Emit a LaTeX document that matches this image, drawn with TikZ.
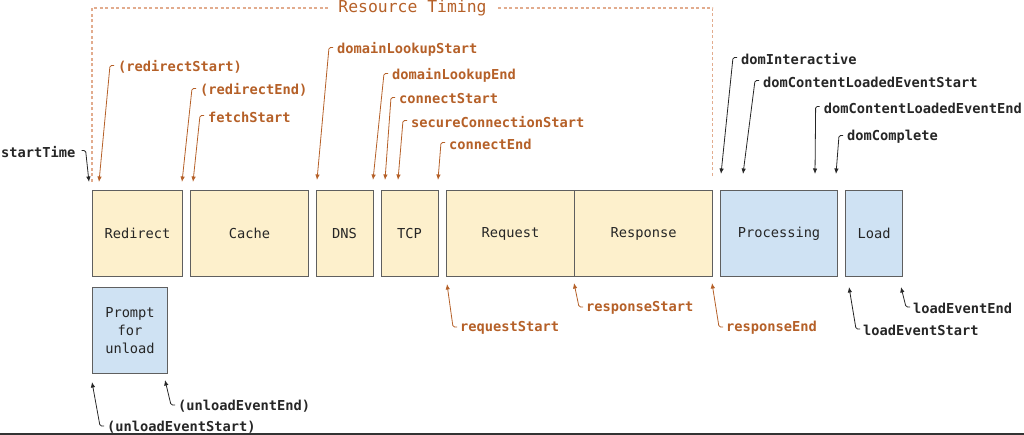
\documentclass[tikz,border=0pt]{standalone}
\usepackage{fontspec}
\newfontfamily\monof{DejaVu Sans Mono}
\usetikzlibrary{arrows.meta,calc}
\definecolor{borange}{RGB}{181,96,40}
\definecolor{dashor}{RGB}{226,172,142}
\definecolor{yfill}{RGB}{253,240,204}
\definecolor{bfill}{RGB}{207,226,243}
\definecolor{bord}{RGB}{95,95,95}
\tikzset{
  box/.style={draw=bord, line width=1pt, inner sep=0pt, anchor=north west, font=\monof\fontsize{13.7}{17.7}\selectfont, text=black!85},
  ybox/.style={box, fill=yfill},
  bbox/.style={box, fill=bfill},
  lab/.style={anchor=west, inner sep=0pt, font=\monof\bfseries\fontsize{13.7}{15}\selectfont},
  olab/.style={lab, text=borange},
  klab/.style={lab, text=black!85},
  arr/.style={line width=0.8pt, rounded corners=1.5pt, -{Latex[length=5.5pt,width=4.5pt]}},
  oarr/.style={arr, draw=borange},
  karr/.style={arr, draw=black!85},
  frame/.style={draw=dashor, line width=1.2pt, dash pattern=on 3pt off 2.5pt}
}
\begin{document}
\begin{tikzpicture}[x=1pt,y=-1pt]
\useasboundingbox (0,0) rectangle (1024,435);
% boxes
\node[ybox, minimum width=90pt, minimum height=86pt] (redirect) at (92,190) {Redirect};
\node[ybox, minimum width=118pt, minimum height=86pt] (cache) at (190,190) {Cache};
\node[ybox, minimum width=57pt, minimum height=86pt] (dns) at (315.5,190) {DNS};
\node[ybox, minimum width=57pt, minimum height=86pt] (tcp) at (380.5,190) {TCP};
\node[ybox, minimum width=128pt, minimum height=86pt] (request) at (446,190) {Request};
\node[ybox, minimum width=138pt, minimum height=86pt] (response) at (574,190) {Response};
\node[bbox, minimum width=117pt, minimum height=86pt] (processing) at (720,190) {Processing};
\node[bbox, minimum width=57pt, minimum height=86pt] (load) at (845,190) {Load};
\node[bbox, minimum width=75pt, minimum height=86pt, align=center] (prompt) at (92,287) {Prompt\\for\\unload};
% resource timing frame
\node[inner sep=0pt, text=borange, font=\monof\fontsize{16.4}{18}\selectfont] (rt) at (412.5,8) {Resource Timing};
\draw[frame] (92,182) -- (92,8) -- (328,8);
\draw[frame] (498,8) -- (712.5,8) -- (712.5,178);
% tip coordinates
\coordinate (tst) at (89,182);
\coordinate (t1) at (99,182);
\coordinate (t2) at (182,182);
\coordinate (t3) at (193,182);
\coordinate (t4) at (317,180);
\coordinate (t5) at (373,180);
\coordinate (t6) at (385,180);
\coordinate (t7) at (398,180);
\coordinate (t8) at (438,180);
\coordinate (t9) at (721,174);
\coordinate (t10) at (743,174);
\coordinate (t11) at (815,174);
\coordinate (t12) at (836,174);
\coordinate (b1) at (447,284);
\coordinate (b2) at (574,283);
\coordinate (b3) at (712,283);
\coordinate (b4) at (849,287);
\coordinate (b5) at (901,287);
\coordinate (u1) at (92,382);
\coordinate (u2) at (165,380);
% top labels
\node[klab] (lst) at (1,152) {startTime};
\draw[karr] ([xshift=6pt,yshift=1.5pt]lst.east) -- ++(4,0) -- (tst);
\node[olab] (l1) at (118,67) {(redirectStart)};
\draw[oarr] ([xshift=-4pt,yshift=1.5pt]l1.west) -- ++(-4,0) -- (t1);
\node[olab] (l2) at (200,90) {(redirectEnd)};
\draw[oarr] ([xshift=-4pt,yshift=1.5pt]l2.west) -- ++(-4,0) -- (t2);
\node[olab] (l3) at (208,117) {fetchStart};
\draw[oarr] ([xshift=-4pt,yshift=1.5pt]l3.west) -- ++(-4,0) -- (t3);
\node[olab] (l4) at (337,49) {domainLookupStart};
\draw[oarr] ([xshift=-4pt,yshift=1.5pt]l4.west) -- ++(-4,0) -- (t4);
\node[olab] (l5) at (392,75) {domainLookupEnd};
\draw[oarr] ([xshift=-4pt,yshift=1.5pt]l5.west) -- ++(-4,0) -- (t5);
\node[olab] (l6) at (399,99) {connectStart};
\draw[oarr] ([xshift=-4pt,yshift=1.5pt]l6.west) -- ++(-4,0) -- (t6);
\node[olab] (l7) at (411,122) {secureConnectionStart};
\draw[oarr] ([xshift=-4pt,yshift=1.5pt]l7.west) -- ++(-4,0) -- (t7);
\node[olab] (l8) at (449,144) {connectEnd};
\draw[oarr] ([xshift=-4pt,yshift=1.5pt]l8.west) -- ++(-4,0) -- (t8);
\node[klab] (l9) at (741,59) {domInteractive};
\draw[karr] ([xshift=-4pt,yshift=1.5pt]l9.west) -- ++(-4,0) -- (t9);
\node[klab] (l10) at (763,82) {domContentLoadedEventStart};
\draw[karr] ([xshift=-4pt,yshift=1.5pt]l10.west) -- ++(-4,0) -- (t10);
\node[klab, anchor=east] (l11) at (1022,108) {domContentLoadedEventEnd};
\draw[karr] ([xshift=-4pt,yshift=1.5pt]l11.west) -- ++(-4,0) -- (t11);
\node[klab] (l12) at (847,137) {domComplete};
\draw[karr] ([xshift=-4pt,yshift=1.5pt]l12.west) -- ++(-4,0) -- (t12);
% bottom labels
\node[olab] (m1) at (460,328) {requestStart};
\draw[oarr] ([xshift=-3pt,yshift=1pt]m1.west) -- ++(-4,0) -- (b1);
\node[olab] (m2) at (586,308) {responseStart};
\draw[oarr] ([xshift=-3pt,yshift=1pt]m2.west) -- ++(-4,0) -- (b2);
\node[olab] (m3) at (726,328) {responseEnd};
\draw[oarr] ([xshift=-3pt,yshift=1pt]m3.west) -- ++(-4,0) -- (b3);
\node[klab] (m4) at (863,330) {loadEventStart};
\draw[karr] ([xshift=-3pt,yshift=1pt]m4.west) -- ++(-4,0) -- (b4);
\node[klab] (m5) at (913,308) {loadEventEnd};
\draw[karr] ([xshift=-3pt,yshift=1pt]m5.west) -- ++(-4,0) -- (b5);
\node[klab] (m6) at (107,427) {(unloadEventStart)};
\draw[karr] ([xshift=-3pt,yshift=1pt]m6.west) -- ++(-4,0) -- (u1);
\node[klab] (m7) at (178,406) {(unloadEventEnd)};
\draw[karr] ([xshift=-3pt,yshift=1pt]m7.west) -- ++(-4,0) -- (u2);
% bottom rule
\draw[line width=2pt, draw=black!80] (0,434) -- (1024,434);
\end{tikzpicture}
\end{document}
